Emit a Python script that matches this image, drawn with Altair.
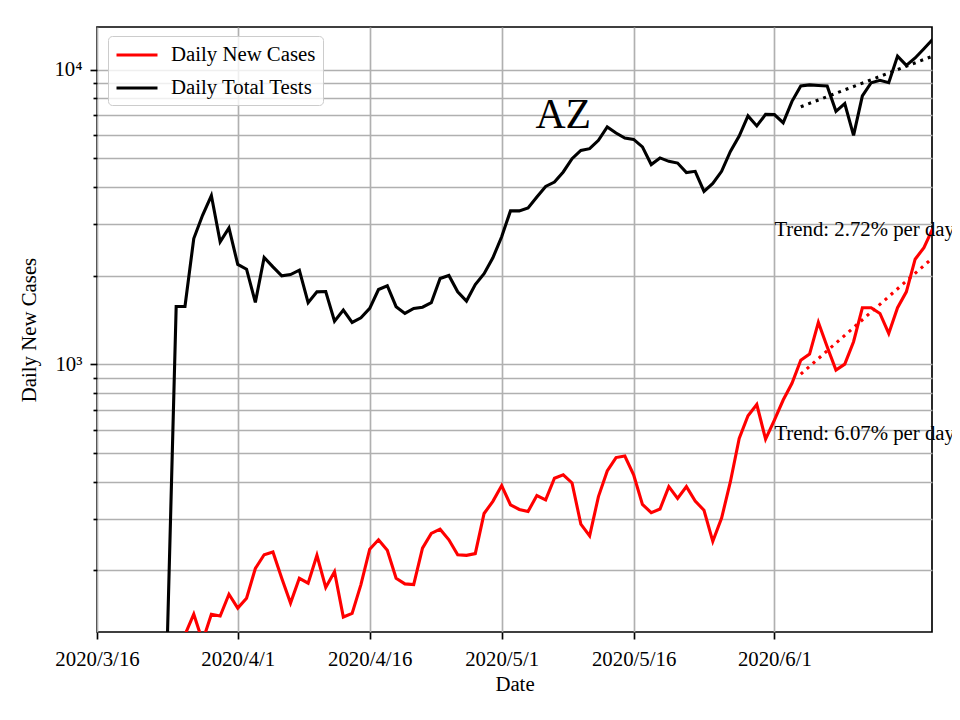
import altair as alt
import pandas as pd

START = pd.Timestamp("2020-03-16")

# Daily total tests, starting 2020-03-24 (day 8 after 3/16)
tests_start_day = 8
tests = [118, 1573, 1573, 2673, 3206, 3741, 2606, 2904, 2183, 2104,
         1623, 2306, 2143, 1999, 2018, 2088, 1619, 1763, 1768, 1402,
         1528, 1388, 1439, 1549, 1795, 1849, 1570, 1489, 1549, 1564,
         1619, 1957, 2003, 1763, 1640, 1867, 2032, 2300, 2711, 3318,
         3318, 3397, 3699, 4017, 4157, 4498, 4990, 5323, 5395, 5759,
         6392, 6099, 5862, 5801, 5470, 4766, 5020, 4886, 4822, 4477,
         4520, 3865, 4111, 4520, 5282, 5957, 6967, 6445, 7053, 7040,
         6607, 7809, 8812, 8880, 8840, 8812, 7225, 7674, 5988, 8146,
         9033, 9206, 9033, 11120, 10340, 10960, 11780, 12680]

# Daily new cases, starting 2020-03-26 (day 10 after 3/16)
cases_start_day = 10
cases = [121, 142, 115, 142, 140, 166, 149, 161, 203, 226,
         231, 188, 155, 188, 181, 225, 175, 198, 139, 143,
         179, 236, 254, 234, 188, 180, 179, 238, 267, 276,
         254, 226, 225, 228, 312, 343, 388, 334, 322, 317,
         359, 347, 411, 422, 396, 287, 262, 356, 435, 483,
         489, 422, 335, 314, 323, 385, 351, 385, 344, 320,
         251, 301, 400, 561, 670, 731, 558, 647, 757, 863,
         1034, 1084, 1388, 1148, 957, 1002, 1194, 1557, 1557, 1489,
         1274, 1557, 1763, 2275, 2490, 2890]

# Trend lines (start/end day, value)
trend_days = [80, 95]
tests_trend = [7486, 11120]
cases_trend = [927, 2300]

series_names = ["Daily New Cases", "Daily Total Tests"]
series_colors = ["#ff0000", "#000000"]

y_ticks = [200, 300, 400, 500, 600, 700, 800, 900,
           1000, 2000, 3000, 4000, 5000, 6000, 7000, 8000, 9000, 10000]
x_tick_days = [0, 16, 31, 46, 61, 77]

annotations = ["AZ", "Trend: 2.72% per day", "Trend: 6.07% per day"]
annot_days = [53, 77, 77]
annot_values = [6340, 2717, 554]


def d2s(d):
    return (START + pd.Timedelta(days=d)).strftime("%Y-%m-%d")


rows = []
for i, v in enumerate(cases):
    rows.append({"date": d2s(cases_start_day + i), "value": v, "series": series_names[0]})
for i, v in enumerate(tests):
    rows.append({"date": d2s(tests_start_day + i), "value": v, "series": series_names[1]})
df = pd.DataFrame(rows)

trend_t = pd.DataFrame({"date": [d2s(d) for d in trend_days], "value": tests_trend})
trend_c = pd.DataFrame({"date": [d2s(d) for d in trend_days], "value": cases_trend})

FONT = "Liberation Serif"
FS = 20.8


def dt(d, hours=0):
    t = START + pd.Timedelta(days=d)
    return alt.DateTime(year=t.year, month=t.month, date=t.day, hours=hours, utc=True)


x_scale = alt.Scale(type="utc", domain=[dt(0), dt(94, 22)])
y_scale = alt.Scale(type="log", domain=[123.6, 13960])

x_axis = alt.Axis(
    values=[dt(d) for d in x_tick_days],
    labelExpr="utcFormat(datum.value, '%Y/%-m/%-d')",
    title="Date", grid=True, tickSize=7, labelPadding=10,
    labelFlush=False, labelOverlap=False,
    titlePadding=6,
)
y_axis = alt.Axis(
    values=y_ticks,
    labelExpr="datum.value == 1000 ? '10³' : (datum.value == 10000 ? '10⁴' : '')",
    title="Daily New Cases", grid=True,
    tickSize={"condition": {"test": "datum.value == 1000 || datum.value == 10000", "value": 7}, "value": 4},
    labelPadding=8, titlePadding=14, labelFlush=False,
)

x_enc = alt.X("date:T", scale=x_scale, axis=x_axis)
y_enc = alt.Y("value:Q", scale=y_scale, axis=y_axis)

lines = alt.Chart(df).mark_line(strokeWidth=3.1, clip=True).encode(
    x=x_enc, y=y_enc,
    color=alt.Color("series:N",
                    scale=alt.Scale(domain=series_names, range=series_colors),
                    sort=series_names,
                    legend=alt.Legend(
                        orient="none", legendX=11, legendY=9, title=None,
                        symbolType="M-2,0H2", symbolSize=420, symbolStrokeWidth=3.1,
                        symbolOffset=10, labelOffset=22,
                        labelFont=FONT, labelFontSize=FS, labelLimit=400,
                        padding=7, rowPadding=11,
                        strokeColor="#cccccc", fillColor="rgba(255,255,255,0.8)",
                        cornerRadius=4,
                    )),
)

trend_lines = [
    alt.Chart(trend_t).mark_line(strokeWidth=3.1, strokeDash=[3, 5], color="#000000", clip=True).encode(
        x=alt.X("date:T", scale=x_scale), y=alt.Y("value:Q", scale=y_scale)),
    alt.Chart(trend_c).mark_line(strokeWidth=3.1, strokeDash=[3, 5], color="#ff0000", clip=True).encode(
        x=alt.X("date:T", scale=x_scale), y=alt.Y("value:Q", scale=y_scale)),
]

ann_df = pd.DataFrame({"date": [d2s(d) for d in annot_days], "value": annot_values, "text": annotations})
title_text = alt.Chart(ann_df.iloc[[0]]).mark_text(
    font=FONT, fontSize=41.7, align="center", baseline="alphabetic", color="black"
).encode(x=alt.X("date:T", scale=x_scale), y=alt.Y("value:Q", scale=y_scale), text="text:N")
trend_text = alt.Chart(ann_df.iloc[1:]).mark_text(
    font=FONT, fontSize=FS, align="left", baseline="alphabetic", color="black"
).encode(x=alt.X("date:T", scale=x_scale), y=alt.Y("value:Q", scale=y_scale), text="text:N")

chart = alt.layer(lines, *trend_lines, title_text, trend_text).properties(
    width=835, height=605,
    autosize=alt.AutoSizeParams(type="none"),
    padding={"left": 89, "top": 19, "right": 20, "bottom": 80},
).configure(
    background="white"
).configure_view(
    stroke="black", strokeWidth=1.67
).configure_axis(
    domain=False,
    gridColor="#b0b0b0", gridWidth=1.67,
    tickColor="black", tickWidth=1.67,
    labelFont=FONT, labelFontSize=FS, labelColor="black",
    titleFont=FONT, titleFontSize=FS, titleFontWeight="normal", titleColor="black",
)

chart.save("out.html", embed_options={"renderer": "svg", "actions": False})
